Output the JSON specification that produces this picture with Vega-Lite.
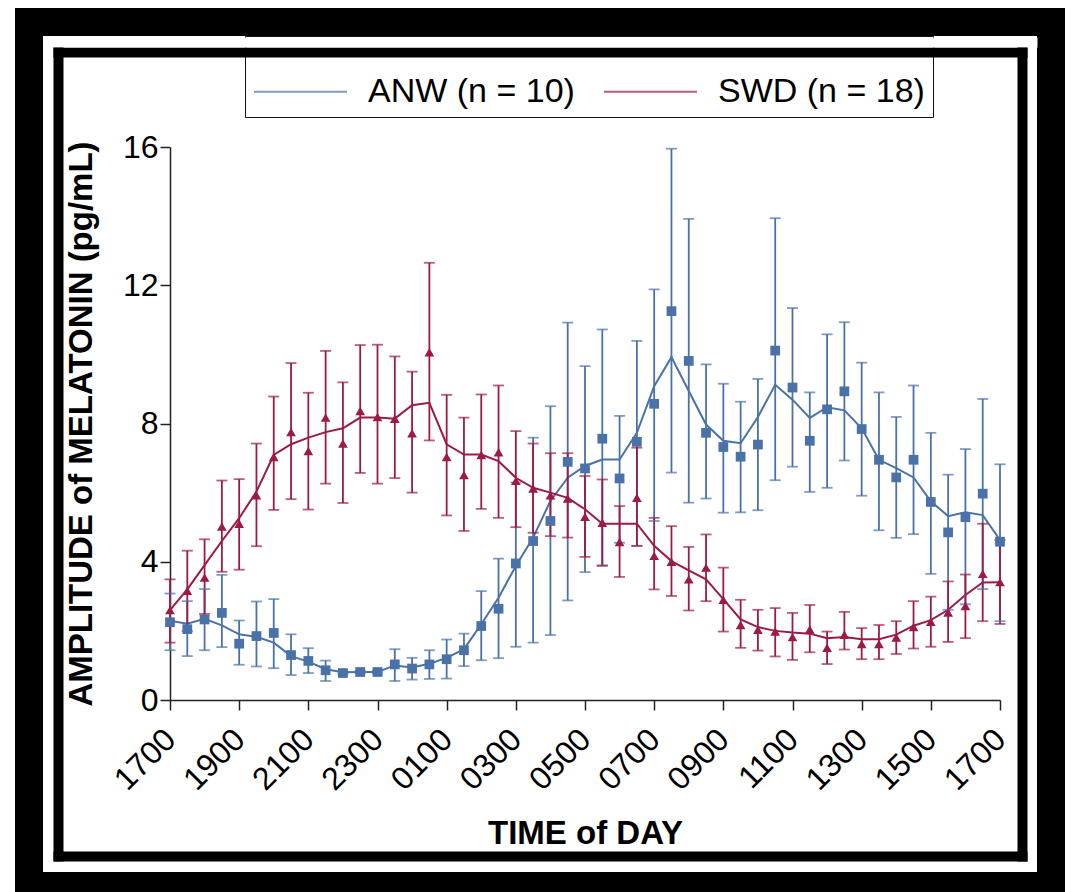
{
  "$schema": "https://vega.github.io/schema/vega-lite/v6.json",
  "width": 1022,
  "height": 864,
  "padding": {"left": 29, "top": 22, "right": 28, "bottom": 6},
  "autosize": {"type": "none"},
  "background": "white",
  "config": {
    "font": "Liberation Sans",
    "view": {"stroke": "black", "strokeWidth": 28, "fill": "white"},
    "axis": {"labelColor": "black", "titleColor": "black", "domainColor": "#222", "tickColor": "#222", "grid": false},
    "legend": {
      "orient": "none", "legendX": 216, "legendY": 14, "direction": "horizontal",
      "labelFontSize": 34, "labelFont": "Liberation Sans", "labelColor": "black",
      "strokeColor": "#111", "fillColor": "white", "padding": 8,
      "columnPadding": 25, "labelOffset": 20, "labelLimit": 400, "zindex": 1
    }
  },
  "data": {"values": [
    {"t":0,"g":"ANW (n = 10)","v":2.25,"lo":1.44,"hi":3.08,"s":2.29},
    {"t":0.5,"g":"ANW (n = 10)","v":2.05,"lo":1.27,"hi":2.86,"s":2.21},
    {"t":1,"g":"ANW (n = 10)","v":2.33,"lo":1.44,"hi":3.21,"s":2.35},
    {"t":1.5,"g":"ANW (n = 10)","v":2.52,"lo":1.53,"hi":3.62,"s":2.16},
    {"t":2,"g":"ANW (n = 10)","v":1.63,"lo":1.02,"hi":2.30,"s":1.90},
    {"t":2.5,"g":"ANW (n = 10)","v":1.85,"lo":0.97,"hi":2.85,"s":1.83},
    {"t":3,"g":"ANW (n = 10)","v":1.94,"lo":0.92,"hi":2.92,"s":1.66},
    {"t":3.5,"g":"ANW (n = 10)","v":1.30,"lo":0.72,"hi":1.90,"s":1.27},
    {"t":4,"g":"ANW (n = 10)","v":1.13,"lo":0.78,"hi":1.50,"s":1.11},
    {"t":4.5,"g":"ANW (n = 10)","v":0.86,"lo":0.55,"hi":1.14,"s":0.89},
    {"t":5,"g":"ANW (n = 10)","v":0.78,"lo":0.74,"hi":0.82,"s":0.80},
    {"t":5.5,"g":"ANW (n = 10)","v":0.81,"lo":0.77,"hi":0.85,"s":0.81},
    {"t":6,"g":"ANW (n = 10)","v":0.81,"lo":0.77,"hi":0.85,"s":0.81},
    {"t":6.5,"g":"ANW (n = 10)","v":1.03,"lo":0.55,"hi":1.47,"s":1.00},
    {"t":7,"g":"ANW (n = 10)","v":0.91,"lo":0.59,"hi":1.22,"s":0.94},
    {"t":7.5,"g":"ANW (n = 10)","v":1.03,"lo":0.61,"hi":1.44,"s":1.05},
    {"t":8,"g":"ANW (n = 10)","v":1.18,"lo":0.62,"hi":1.75,"s":1.22},
    {"t":8.5,"g":"ANW (n = 10)","v":1.44,"lo":0.98,"hi":1.92,"s":1.47},
    {"t":9,"g":"ANW (n = 10)","v":2.14,"lo":1.15,"hi":3.15,"s":2.19},
    {"t":9.5,"g":"ANW (n = 10)","v":2.64,"lo":1.21,"hi":4.09,"s":2.96},
    {"t":10,"g":"ANW (n = 10)","v":3.95,"lo":1.54,"hi":6.29,"s":3.88},
    {"t":10.5,"g":"ANW (n = 10)","v":4.60,"lo":1.66,"hi":7.59,"s":4.70},
    {"t":11,"g":"ANW (n = 10)","v":5.18,"lo":1.88,"hi":8.50,"s":5.76},
    {"t":11.5,"g":"ANW (n = 10)","v":6.89,"lo":2.88,"hi":10.92,"s":6.43},
    {"t":12,"g":"ANW (n = 10)","v":6.70,"lo":3.70,"hi":9.66,"s":6.77},
    {"t":12.5,"g":"ANW (n = 10)","v":7.56,"lo":3.90,"hi":10.72,"s":6.96},
    {"t":13,"g":"ANW (n = 10)","v":6.41,"lo":4.55,"hi":8.22,"s":6.96},
    {"t":13.5,"g":"ANW (n = 10)","v":7.47,"lo":4.46,"hi":10.39,"s":7.73},
    {"t":14,"g":"ANW (n = 10)","v":8.57,"lo":5.18,"hi":11.88,"s":9.08},
    {"t":14.5,"g":"ANW (n = 10)","v":11.25,"lo":6.58,"hi":15.95,"s":9.92},
    {"t":15,"g":"ANW (n = 10)","v":9.81,"lo":5.71,"hi":13.92,"s":8.94},
    {"t":15.5,"g":"ANW (n = 10)","v":7.73,"lo":5.83,"hi":9.71,"s":7.97},
    {"t":16,"g":"ANW (n = 10)","v":7.32,"lo":5.42,"hi":9.15,"s":7.50},
    {"t":16.5,"g":"ANW (n = 10)","v":7.04,"lo":5.43,"hi":8.63,"s":7.43},
    {"t":17,"g":"ANW (n = 10)","v":7.39,"lo":5.49,"hi":9.29,"s":8.19},
    {"t":17.5,"g":"ANW (n = 10)","v":10.11,"lo":6.36,"hi":13.94,"s":9.12},
    {"t":18,"g":"ANW (n = 10)","v":9.04,"lo":6.75,"hi":11.34,"s":8.69},
    {"t":18.5,"g":"ANW (n = 10)","v":7.50,"lo":6.02,"hi":8.90,"s":8.16},
    {"t":19,"g":"ANW (n = 10)","v":8.41,"lo":6.14,"hi":10.58,"s":8.47},
    {"t":19.5,"g":"ANW (n = 10)","v":8.93,"lo":6.93,"hi":10.93,"s":8.38},
    {"t":20,"g":"ANW (n = 10)","v":7.84,"lo":5.91,"hi":9.76,"s":7.86},
    {"t":20.5,"g":"ANW (n = 10)","v":6.95,"lo":4.91,"hi":8.90,"s":6.95},
    {"t":21,"g":"ANW (n = 10)","v":6.44,"lo":4.69,"hi":8.19,"s":6.71},
    {"t":21.5,"g":"ANW (n = 10)","v":6.95,"lo":4.80,"hi":9.10,"s":6.44},
    {"t":22,"g":"ANW (n = 10)","v":5.73,"lo":3.65,"hi":7.73,"s":5.75},
    {"t":22.5,"g":"ANW (n = 10)","v":4.85,"lo":2.61,"hi":6.52,"s":5.32},
    {"t":23,"g":"ANW (n = 10)","v":5.29,"lo":2.77,"hi":7.26,"s":5.43},
    {"t":23.5,"g":"ANW (n = 10)","v":5.97,"lo":3.21,"hi":8.71,"s":5.35},
    {"t":24,"g":"ANW (n = 10)","v":4.58,"lo":2.28,"hi":6.82,"s":4.63},
    {"t":0,"g":"SWD (n = 18)","v":2.60,"lo":1.66,"hi":3.49,"s":2.60},
    {"t":0.5,"g":"SWD (n = 18)","v":3.16,"lo":1.99,"hi":4.32,"s":3.20},
    {"t":1,"g":"SWD (n = 18)","v":3.54,"lo":2.49,"hi":4.65,"s":3.90},
    {"t":1.5,"g":"SWD (n = 18)","v":5.02,"lo":3.71,"hi":6.35,"s":4.60},
    {"t":2,"g":"SWD (n = 18)","v":5.10,"lo":3.77,"hi":6.39,"s":5.26},
    {"t":2.5,"g":"SWD (n = 18)","v":5.92,"lo":4.45,"hi":7.42,"s":6.03},
    {"t":3,"g":"SWD (n = 18)","v":7.03,"lo":5.50,"hi":8.78,"s":7.09},
    {"t":3.5,"g":"SWD (n = 18)","v":7.75,"lo":5.81,"hi":9.75,"s":7.40},
    {"t":4,"g":"SWD (n = 18)","v":7.20,"lo":5.51,"hi":8.89,"s":7.59},
    {"t":4.5,"g":"SWD (n = 18)","v":8.17,"lo":6.26,"hi":10.10,"s":7.75},
    {"t":5,"g":"SWD (n = 18)","v":7.42,"lo":5.70,"hi":9.19,"s":7.86},
    {"t":5.5,"g":"SWD (n = 18)","v":8.36,"lo":6.57,"hi":10.27,"s":8.17},
    {"t":6,"g":"SWD (n = 18)","v":8.19,"lo":6.26,"hi":10.28,"s":8.17},
    {"t":6.5,"g":"SWD (n = 18)","v":8.14,"lo":6.42,"hi":9.94,"s":8.14},
    {"t":7,"g":"SWD (n = 18)","v":7.72,"lo":6.00,"hi":9.50,"s":8.53},
    {"t":7.5,"g":"SWD (n = 18)","v":10.06,"lo":7.51,"hi":12.65,"s":8.60},
    {"t":8,"g":"SWD (n = 18)","v":7.03,"lo":5.34,"hi":8.83,"s":7.40},
    {"t":8.5,"g":"SWD (n = 18)","v":6.51,"lo":4.89,"hi":8.17,"s":7.10},
    {"t":9,"g":"SWD (n = 18)","v":7.09,"lo":5.53,"hi":8.84,"s":7.10},
    {"t":9.5,"g":"SWD (n = 18)","v":7.17,"lo":5.27,"hi":9.10,"s":6.91},
    {"t":10,"g":"SWD (n = 18)","v":6.34,"lo":5.00,"hi":7.78,"s":6.43},
    {"t":10.5,"g":"SWD (n = 18)","v":6.12,"lo":4.84,"hi":7.42,"s":6.14},
    {"t":11,"g":"SWD (n = 18)","v":5.92,"lo":4.74,"hi":7.14,"s":6.00},
    {"t":11.5,"g":"SWD (n = 18)","v":5.83,"lo":4.70,"hi":7.14,"s":5.85},
    {"t":12,"g":"SWD (n = 18)","v":5.30,"lo":4.14,"hi":6.48,"s":5.52},
    {"t":12.5,"g":"SWD (n = 18)","v":5.13,"lo":3.88,"hi":6.38,"s":5.10},
    {"t":13,"g":"SWD (n = 18)","v":4.57,"lo":3.56,"hi":5.61,"s":5.10},
    {"t":13.5,"g":"SWD (n = 18)","v":5.85,"lo":4.46,"hi":7.30,"s":5.10},
    {"t":14,"g":"SWD (n = 18)","v":4.17,"lo":3.20,"hi":5.27,"s":4.46},
    {"t":14.5,"g":"SWD (n = 18)","v":4.00,"lo":3.01,"hi":5.03,"s":4.02},
    {"t":15,"g":"SWD (n = 18)","v":3.49,"lo":2.59,"hi":4.43,"s":3.75},
    {"t":15.5,"g":"SWD (n = 18)","v":3.83,"lo":2.86,"hi":4.79,"s":3.49},
    {"t":16,"g":"SWD (n = 18)","v":2.90,"lo":1.98,"hi":3.83,"s":2.92},
    {"t":16.5,"g":"SWD (n = 18)","v":2.17,"lo":1.51,"hi":2.90,"s":2.33},
    {"t":17,"g":"SWD (n = 18)","v":2.03,"lo":1.43,"hi":2.61,"s":2.11},
    {"t":17.5,"g":"SWD (n = 18)","v":1.98,"lo":1.26,"hi":2.66,"s":2.00},
    {"t":18,"g":"SWD (n = 18)","v":1.82,"lo":1.16,"hi":2.52,"s":1.95},
    {"t":18.5,"g":"SWD (n = 18)","v":2.04,"lo":1.38,"hi":2.75,"s":1.92},
    {"t":19,"g":"SWD (n = 18)","v":1.51,"lo":1.04,"hi":1.98,"s":1.79},
    {"t":19.5,"g":"SWD (n = 18)","v":1.89,"lo":1.46,"hi":2.55,"s":1.82},
    {"t":20,"g":"SWD (n = 18)","v":1.62,"lo":1.18,"hi":2.08,"s":1.76},
    {"t":20.5,"g":"SWD (n = 18)","v":1.62,"lo":1.18,"hi":2.17,"s":1.76},
    {"t":21,"g":"SWD (n = 18)","v":1.81,"lo":1.33,"hi":2.28,"s":1.89},
    {"t":21.5,"g":"SWD (n = 18)","v":2.11,"lo":1.49,"hi":2.86,"s":2.15},
    {"t":22,"g":"SWD (n = 18)","v":2.26,"lo":1.54,"hi":2.99,"s":2.31},
    {"t":22.5,"g":"SWD (n = 18)","v":2.53,"lo":1.68,"hi":3.43,"s":2.61},
    {"t":23,"g":"SWD (n = 18)","v":2.72,"lo":1.79,"hi":3.63,"s":3.04},
    {"t":23.5,"g":"SWD (n = 18)","v":3.65,"lo":2.28,"hi":5.10,"s":3.40},
    {"t":24,"g":"SWD (n = 18)","v":3.41,"lo":2.20,"hi":4.63,"s":3.41}
  ]},
  "layer": [
    {
      "encoding": {
        "x": {
          "field": "t", "type": "quantitative",
          "scale": {"domain": [0, 24], "range": [141, 971]},
          "axis": {
            "orient": "bottom", "offset": -186,
            "values": [0, 2, 4, 6, 8, 10, 12, 14, 16, 18, 20, 22, 24],
            "labelExpr": "(((datum.value + 17) % 24) < 10 ? '0' : '') + ((datum.value + 17) % 24) + '00'",
            "labelAngle": -45, "labelAlign": "right", "labelBaseline": "middle",
            "labelPadding": 24, "labelFontSize": 32, "labelFlush": false, "labelOverlap": false, "labelBound": false,
            "tickSize": 10, "tickWidth": 1.5, "domainWidth": 1.5,
            "title": "TIME of DAY", "titleFontSize": 33, "titleFontWeight": "bold",
            "titleX": 556, "titleY": 143, "titleBaseline": "alphabetic", "titleAlign": "center"
          }
        },
        "color": {
          "field": "g", "type": "nominal",
          "scale": {"domain": ["ANW (n = 10)", "SWD (n = 18)"], "range": ["#4a72a8", "#9c1a47"]},
          "legend": {"title": null, "symbolType": "stroke", "symbolSize": 8649, "symbolStrokeWidth": 2}
        }
      },
      "layer": [
        {
          "mark": {"type": "line", "strokeWidth": 2},
          "encoding": {
            "y": {
              "field": "s", "type": "quantitative", "title": "AMPLITUDE of MELATONIN (pg/mL)",
              "scale": {"domain": [0, 16], "range": [678, 125]},
              "axis": {
                "orient": "left", "offset": -141, "values": [0, 4, 8, 12, 16],
                "labelFontSize": 32, "labelPadding": 2, "tickSize": 10, "tickWidth": 1.5, "domainWidth": 1.5,
                "labelFlush": false,
                "titleFontSize": 33, "titleFontWeight": "bold", "titleAngle": 270,
                "titleX": -79, "titleY": 401.5, "titleBaseline": "alphabetic", "titleAlign": "center"
              }
            }
          }
        },
        {
          "mark": {"type": "rule", "strokeWidth": 1.8},
          "encoding": {
            "y": {"field": "lo", "type": "quantitative", "title": "AMPLITUDE of MELATONIN (pg/mL)", "scale": {"domain": [0, 16], "range": [678, 125]}},
            "y2": {"field": "hi"}
          }
        },
        {
          "mark": {"type": "tick", "orient": "horizontal", "size": 11, "thickness": 1.8},
          "encoding": {"y": {"field": "lo", "type": "quantitative", "title": "AMPLITUDE of MELATONIN (pg/mL)", "scale": {"domain": [0, 16], "range": [678, 125]}}}
        },
        {
          "mark": {"type": "tick", "orient": "horizontal", "size": 11, "thickness": 1.8},
          "encoding": {"y": {"field": "hi", "type": "quantitative", "title": "AMPLITUDE of MELATONIN (pg/mL)", "scale": {"domain": [0, 16], "range": [678, 125]}}}
        },
        {
          "transform": [{"filter": "datum.g == 'ANW (n = 10)'"}],
          "mark": {"type": "point", "filled": true, "opacity": 1, "size": 95, "shape": "square"},
          "encoding": {
            "y": {"field": "v", "type": "quantitative", "title": "AMPLITUDE of MELATONIN (pg/mL)", "scale": {"domain": [0, 16], "range": [678, 125]}}
          }
        },
        {
          "transform": [{"filter": "datum.g == 'SWD (n = 18)'"}],
          "mark": {"type": "point", "filled": true, "opacity": 1, "size": 95, "shape": "triangle-up"},
          "encoding": {
            "y": {"field": "v", "type": "quantitative", "title": "AMPLITUDE of MELATONIN (pg/mL)", "scale": {"domain": [0, 16], "range": [678, 125]}}
          }
        }
      ]
    },
    {
      "mark": {"type": "point", "opacity": 0},
      "encoding": {
        "x": {"field": "t", "type": "quantitative", "scale": {"domain": [0, 24], "range": [24, 998]},
          "axis": {"orient": "top", "offset": -30, "domainWidth": 10, "domainColor": "black", "labels": false, "ticks": false, "grid": false, "title": null, "zindex": 2}},
        "y": {"field": "v", "type": "quantitative", "scale": {"domain": [0, 16], "range": [839, 25]},
          "axis": {"orient": "left", "offset": -29, "domainWidth": 10, "domainColor": "black", "labels": false, "ticks": false, "grid": false, "title": null, "zindex": 2}}
      }
    },
    {
      "mark": {"type": "point", "opacity": 0},
      "encoding": {
        "x": {"field": "t", "type": "quantitative", "scale": {"domain": [0, 24], "range": [24, 998]},
          "axis": {"orient": "bottom", "offset": -30, "domainWidth": 10, "domainColor": "black", "labels": false, "ticks": false, "grid": false, "title": null, "zindex": 2}},
        "y": {"field": "v", "type": "quantitative", "scale": {"domain": [0, 16], "range": [839, 25]},
          "axis": {"orient": "right", "offset": -29, "domainWidth": 10, "domainColor": "black", "labels": false, "ticks": false, "grid": false, "title": null, "zindex": 2}}
      }
    },
    {
      "mark": {"type": "point", "opacity": 0},
      "encoding": {
        "x": {"field": "t", "type": "quantitative", "scale": {"domain": [0, 24], "range": [14, 1008]},
          "axis": {"orient": "top", "offset": -20, "domainWidth": 10, "domainColor": "white", "labels": false, "ticks": false, "grid": false, "title": null, "zindex": 2}},
        "y": {"field": "v", "type": "quantitative", "scale": {"domain": [0, 16], "range": [839, 25]}, "axis": null}
      }
    }
  ],
  "resolve": {"scale": {"x": "independent", "y": "independent"}}
}
